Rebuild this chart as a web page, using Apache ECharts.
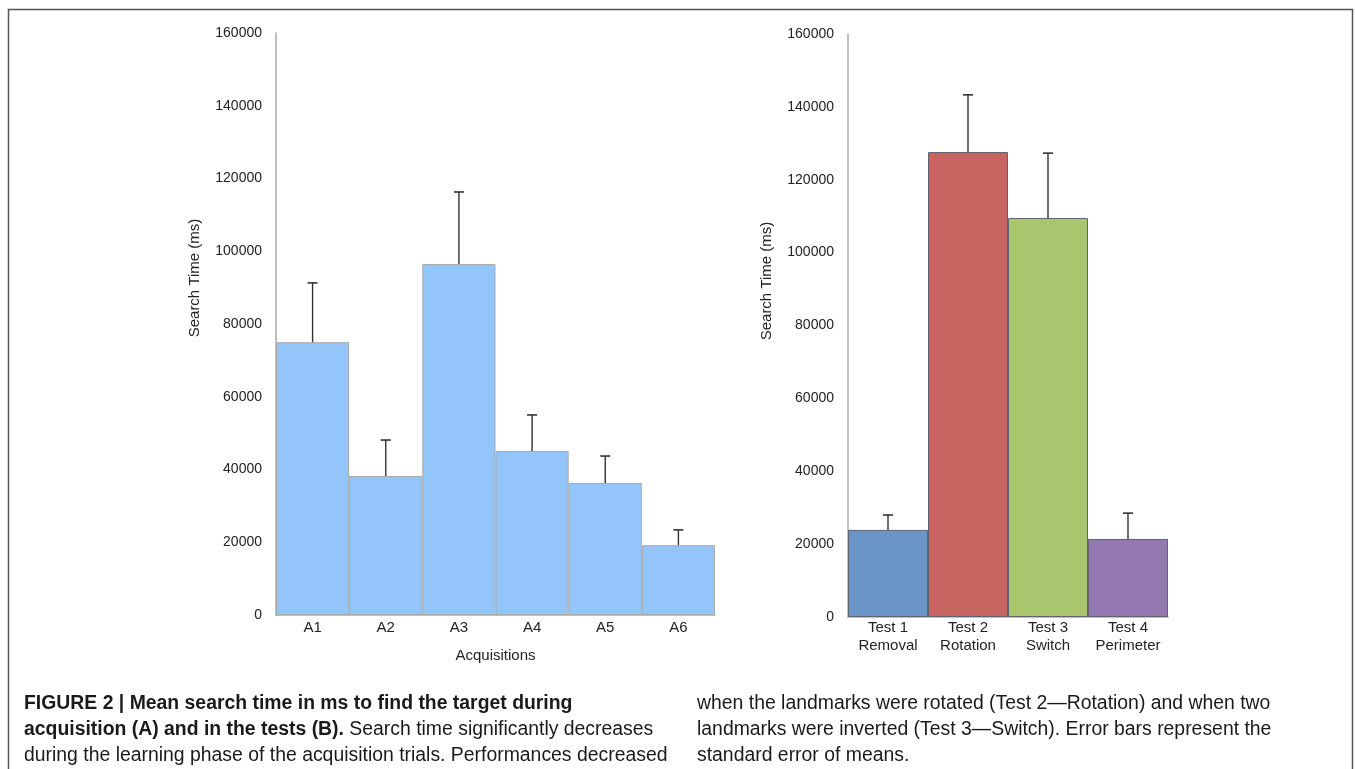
<!DOCTYPE html>
<html>
<head>
<meta charset="utf-8">
<script src="https://cdn.jsdelivr.net/npm/echarts@6/dist/echarts.min.js"></script>
<style>
html,body{margin:0;padding:0;background:#fff;}
#c{width:1355px;height:769px;}
</style>
</head>
<body>
<div id="c"></div>
<script>
// ---- data ----
const acqCategories = ['A1', 'A2', 'A3', 'A4', 'A5', 'A6'];
const acqMeans = [75000, 38200, 96500, 45100, 36300, 19200];
const acqSE = [16300, 9900, 19800, 9900, 7400, 4200];

const testCategories = ['Test 1\nRemoval', 'Test 2\nRotation', 'Test 3\nSwitch', 'Test 4\nPerimeter'];
const testMeans = [23900, 127600, 109500, 21400];
const testSE = [4100, 15700, 17800, 7100];
const testColors = ['#6a93c8', '#c86562', '#a9c66e', '#9478b1'];

const yTicks = { min: 0, max: 160000, interval: 20000 };

const captionLeft = [
  '{b|FIGURE 2 | Mean search time in ms to find the target during}',
  '{b|acquisition (A) and in the tests (B).} Search time significantly decreases',
  'during the learning phase of the acquisition trials. Performances decreased'
];
const captionRight = [
  'when the landmarks were rotated (Test 2\u2014Rotation) and when two',
  'landmarks were inverted (Test 3\u2014Switch). Error bars represent the',
  'standard error of means.'
];

// ---- chart ----
const chart = echarts.init(document.getElementById('c'));
const FONT = 'Liberation Sans, Arial, sans-serif';
const CAPFONT = 'Liberation Sans, Arial, sans-serif';
const CAPSIZE = 19.4;

function errRender(params, api) {
  const x = api.value(0);
  const m = api.value(1);
  const se = api.value(2);
  const p0 = api.coord([x, m]);
  const p1 = api.coord([x, m + se]);
  const half = 5;
  return {
    type: 'group',
    children: [
      { type: 'line', shape: { x1: p0[0], y1: p0[1], x2: p1[0], y2: p1[1] },
        style: { stroke: '#333', lineWidth: 1.4 } },
      { type: 'line', shape: { x1: p1[0] - half, y1: p1[1], x2: p1[0] + half, y2: p1[1] },
        style: { stroke: '#333', lineWidth: 1.6 } }
    ]
  };
}

function yAxis(idx) {
  return {
    type: 'value', gridIndex: idx,
    min: yTicks.min, max: yTicks.max, interval: yTicks.interval,
    splitLine: { show: false },
    axisTick: { show: false },
    axisLine: { show: true, lineStyle: { color: '#aaaaaa', width: 1.5 } },
    axisLabel: { color: '#222', fontSize: 14, fontFamily: FONT, margin: 14,
      formatter: function (v) { return String(v); } }
  };
}

const graphics = [
  { type: 'rect', shape: { x: 8.5, y: 9.5, width: 1344, height: 800 },
    style: { fill: 'none', stroke: '#555', lineWidth: 1.5 }, silent: true },
  { type: 'text', x: 195, y: 278, rotation: Math.PI / 2,
    style: { text: 'Search Time (ms)', fontSize: 15, fontFamily: FONT, fill: '#222',
      align: 'center', verticalAlign: 'middle' } },
  { type: 'text', x: 767, y: 281, rotation: Math.PI / 2,
    style: { text: 'Search Time (ms)', fontSize: 15, fontFamily: FONT, fill: '#222',
      align: 'center', verticalAlign: 'middle' } }
];
const capStyle = { fontSize: CAPSIZE, fontFamily: CAPFONT, fill: '#1a1a1a', verticalAlign: 'middle' };
captionLeft.forEach(function (t, i) {
  graphics.push({ type: 'text', left: 24, top: 694 + i * 26,
    style: Object.assign({ text: t, rich: { b: { fontWeight: 'bold', fontSize: CAPSIZE, fontFamily: CAPFONT, fill: '#1a1a1a' } } }, capStyle) });
});
captionRight.forEach(function (t, i) {
  graphics.push({ type: 'text', left: 697, top: 694 + i * 26,
    style: Object.assign({ text: t }, capStyle) });
});

chart.setOption({
  animation: false,
  grid: [
    { left: 276, top: 33, width: 439, height: 582 },
    { left: 848, top: 34, width: 320, height: 583 }
  ],
  xAxis: [
    { type: 'category', gridIndex: 0, data: acqCategories,
      name: 'Acquisitions', nameLocation: 'middle', nameGap: 33,
      nameTextStyle: { color: '#222', fontSize: 15, fontFamily: FONT },
      axisTick: { show: false },
      axisLine: { lineStyle: { color: '#aaaaaa', width: 1.5 } },
      axisLabel: { color: '#222', fontSize: 15, fontFamily: FONT, margin: 5, interval: 0 } },
    { type: 'category', gridIndex: 1, data: testCategories,
      axisTick: { show: false },
      axisLine: { lineStyle: { color: '#aaaaaa', width: 1.5 } },
      axisLabel: { color: '#222', fontSize: 15, fontFamily: FONT, margin: 2, lineHeight: 18,
        interval: 0, hideOverlap: false } }
  ],
  yAxis: [yAxis(0), yAxis(1)],
  series: [
    { type: 'bar', xAxisIndex: 0, yAxisIndex: 0, data: acqMeans,
      barCategoryGap: '0%', barWidth: '100%',
      itemStyle: { color: '#94c5fa', borderColor: '#a9a9a9', borderWidth: 1 } },
    { type: 'custom', xAxisIndex: 0, yAxisIndex: 0, renderItem: errRender, z: 5,
      data: acqMeans.map(function (v, i) { return [i, v, acqSE[i]]; }) },
    { type: 'bar', xAxisIndex: 1, yAxisIndex: 1,
      data: testMeans.map(function (v, i) { return { value: v, itemStyle: { color: testColors[i] } }; }),
      barCategoryGap: '0%', barWidth: '100%',
      itemStyle: { borderColor: '#60646f', borderWidth: 1 } },
    { type: 'custom', xAxisIndex: 1, yAxisIndex: 1, renderItem: errRender, z: 5,
      data: testMeans.map(function (v, i) { return [i, v, testSE[i]]; }) }
  ],
  graphic: graphics
});
</script>
</body>
</html>
